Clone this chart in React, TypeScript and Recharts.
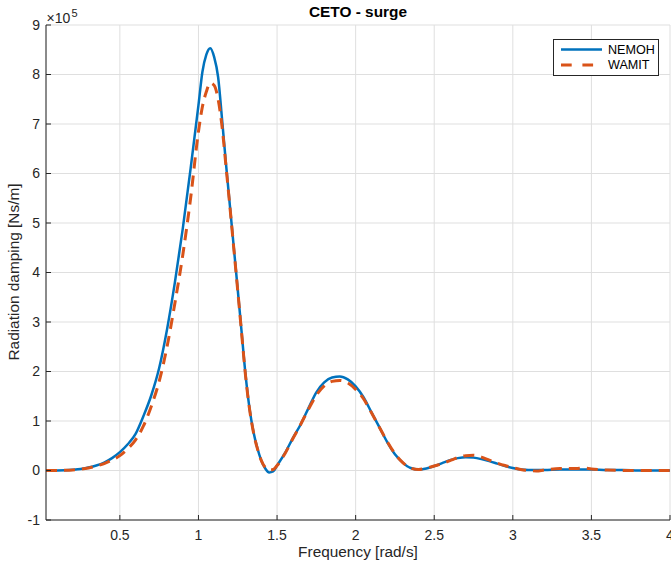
import React from "react";
import { CartesianGrid, Legend, Line, LineChart, XAxis, YAxis } from "recharts";

// frequency [rad/s]
const freq = [
  0.03, 0.1, 0.15, 0.2, 0.25, 0.3, 0.35, 0.4, 0.45, 0.5, 0.55, 0.6, 0.65, 0.7,
  0.75, 0.8, 0.85, 0.9, 0.95, 1.0, 1.025, 1.05, 1.075, 1.1, 1.125, 1.15, 1.175,
  1.2, 1.225, 1.25, 1.275, 1.3, 1.325, 1.35, 1.375, 1.4, 1.425, 1.45, 1.475,
  1.5, 1.55, 1.6, 1.65, 1.7, 1.75, 1.8, 1.85, 1.9, 1.95, 2.0, 2.05, 2.1, 2.15,
  2.2, 2.25, 2.3, 2.35, 2.4, 2.45, 2.5, 2.55, 2.6, 2.65, 2.7, 2.75, 2.8, 2.85,
  2.9, 2.95, 3.0, 3.05, 3.1, 3.15, 3.2, 3.3, 3.4, 3.45, 3.5, 3.6, 3.7, 3.8,
  3.9, 4.0,
];

// radiation damping, x 10^5 Ns/m
const nemoh = [
  0, 0.002, 0.006, 0.015, 0.03, 0.06, 0.1, 0.16, 0.25, 0.37, 0.53, 0.74, 1.1,
  1.52, 2.07, 2.85, 3.8, 4.88, 6.1, 7.38, 8.05, 8.4, 8.53, 8.35, 7.95, 7.1,
  6.2, 5.35, 4.5, 3.65, 2.78, 1.92, 1.25, 0.78, 0.45, 0.2, 0.04, -0.04, -0.02,
  0.1, 0.35, 0.65, 0.93, 1.26, 1.58, 1.78, 1.88, 1.9, 1.84, 1.7, 1.48, 1.18,
  0.88, 0.58, 0.33, 0.16, 0.05, 0.02, 0.04, 0.09, 0.15, 0.21, 0.25, 0.27,
  0.26, 0.23, 0.19, 0.14, 0.09, 0.05, 0.02, 0.01, 0.01, 0.01, 0.02, 0.02,
  0.02, 0.02, 0.01, 0.01, 0, 0, 0,
];

const wamit = [
  0, 0.002, 0.005, 0.012, 0.025, 0.05, 0.09, 0.14, 0.21, 0.3, 0.44, 0.62, 0.9,
  1.3, 1.8, 2.5, 3.38, 4.35, 5.5, 6.85, 7.35, 7.65, 7.83, 7.78, 7.5, 6.95,
  6.15, 5.33, 4.48, 3.63, 2.76, 1.9, 1.24, 0.77, 0.44, 0.2, 0.06, 0.01, 0.02,
  0.1, 0.34, 0.64, 0.93, 1.24, 1.52, 1.71, 1.8, 1.82, 1.77, 1.64, 1.45, 1.17,
  0.88, 0.59, 0.34, 0.16, 0.05, 0.02, 0.05, 0.09, 0.14, 0.2, 0.26, 0.3, 0.31,
  0.27, 0.21, 0.15, 0.1, 0.06, 0.02, 0, -0.01, 0.01, 0.04, 0.04, 0.05, 0.03,
  0.01, 0, 0, 0, 0,
];

const xTicks = [0.5, 1, 1.5, 2, 2.5, 3, 3.5, 4];
const yTicks = [-1, 0, 1, 2, 3, 4, 5, 6, 7, 8, 9];

const data = freq.map((f, i) => ({ f, nemoh: nemoh[i], wamit: wamit[i] }));

const FONT = '"Liberation Sans", Arial, Helvetica, sans-serif';
const INK = "#262626";
const BLUE = "#0072BD";
const ORANGE = "#D95319";

const renderLegend = () => (
  <svg width={106} height={37} style={{ display: "block", fontFamily: FONT }}>
    <rect x={0.5} y={0.5} width={105} height={36} fill="#fff" stroke={INK} />
    <line x1={8} x2={49} y1={10.5} y2={10.5} stroke={BLUE} strokeWidth={2.5} />
    <text x={55} y={10.5} dy="0.35em" fontSize={12.6} fill="#000">
      NEMOH
    </text>
    <line
      x1={8}
      x2={49}
      y1={26}
      y2={26}
      stroke={ORANGE}
      strokeWidth={3}
      strokeDasharray="10.7 10.7"
    />
    <text x={55} y={26} dy="0.35em" fontSize={12.6} fill="#000">
      WAMIT
    </text>
  </svg>
);

const App = () => {
  const tickStyle = { fill: INK, fontSize: 14, fontFamily: FONT };
  return (
    <div
      style={{
        position: "absolute",
        left: 0,
        top: 0,
        width: 671,
        height: 570,
        background: "#fff",
        fontFamily: FONT,
      }}
    >
      <LineChart
        width={671}
        height={570}
        data={data}
        margin={{ top: 25, right: 1, bottom: 0, left: 0 }}
      >
        <CartesianGrid stroke="#dfdfdf" />
        <XAxis
          dataKey="f"
          type="number"
          domain={[0.03, 4]}
          ticks={xTicks}
          interval={0}
          allowDataOverflow
          height={50}
          tickSize={-5}
          tickMargin={15}
          stroke={INK}
          tick={tickStyle}
        />
        <XAxis
          xAxisId="top"
          orientation="top"
          dataKey="f"
          type="number"
          domain={[0.03, 4]}
          ticks={xTicks}
          interval={0}
          allowDataOverflow
          height={0}
          tickSize={-5}
          tick={false}
          stroke={INK}
        />
        <YAxis
          type="number"
          domain={[-1, 9]}
          ticks={yTicks}
          interval={0}
          allowDataOverflow
          width={46}
          tickSize={-5}
          tickMargin={11}
          stroke={INK}
          tick={tickStyle}
        />
        <YAxis
          yAxisId="right"
          orientation="right"
          type="number"
          domain={[-1, 9]}
          ticks={yTicks}
          interval={0}
          allowDataOverflow
          width={0}
          tickSize={-5}
          tick={false}
          stroke={INK}
        />
        <Line
          type="monotone"
          dataKey="nemoh"
          stroke={BLUE}
          strokeWidth={2.5}
          dot={false}
          isAnimationActive={false}
        />
        <Line
          type="monotone"
          dataKey="wamit"
          stroke={ORANGE}
          strokeWidth={3}
          strokeDasharray="11 7"
          dot={false}
          isAnimationActive={false}
        />
        <Legend
          layout="horizontal"
          verticalAlign="middle"
          align="center"
          wrapperStyle={{ left: 553, top: 39, width: 106, height: 37 }}
          content={renderLegend}
        />
      </LineChart>
      <svg
        width={671}
        height={570}
        style={{ position: "absolute", left: 0, top: 0, pointerEvents: "none" }}
        fontFamily={FONT}
        fill="#000"
      >
        <text x={358} y={17} textAnchor="middle" fontSize={15.4} fontWeight="bold">
          CETO - surge
        </text>
        <text x={358} y={557} textAnchor="middle" fontSize={15.4} fill={INK}>
          Frequency [rad/s]
        </text>
        <text
          transform="translate(19, 272) rotate(-90)"
          textAnchor="middle"
          fontSize={15.4}
          fill={INK}
        >
          Radiation damping [Ns/m]
        </text>
        <text x={46.5} y={22.7} fontSize={14} fill={INK}>
          ×10
        </text>
        <text x={71.5} y={16.5} fontSize={11} fill={INK}>
          5
        </text>
      </svg>
    </div>
  );
};

export default App;
